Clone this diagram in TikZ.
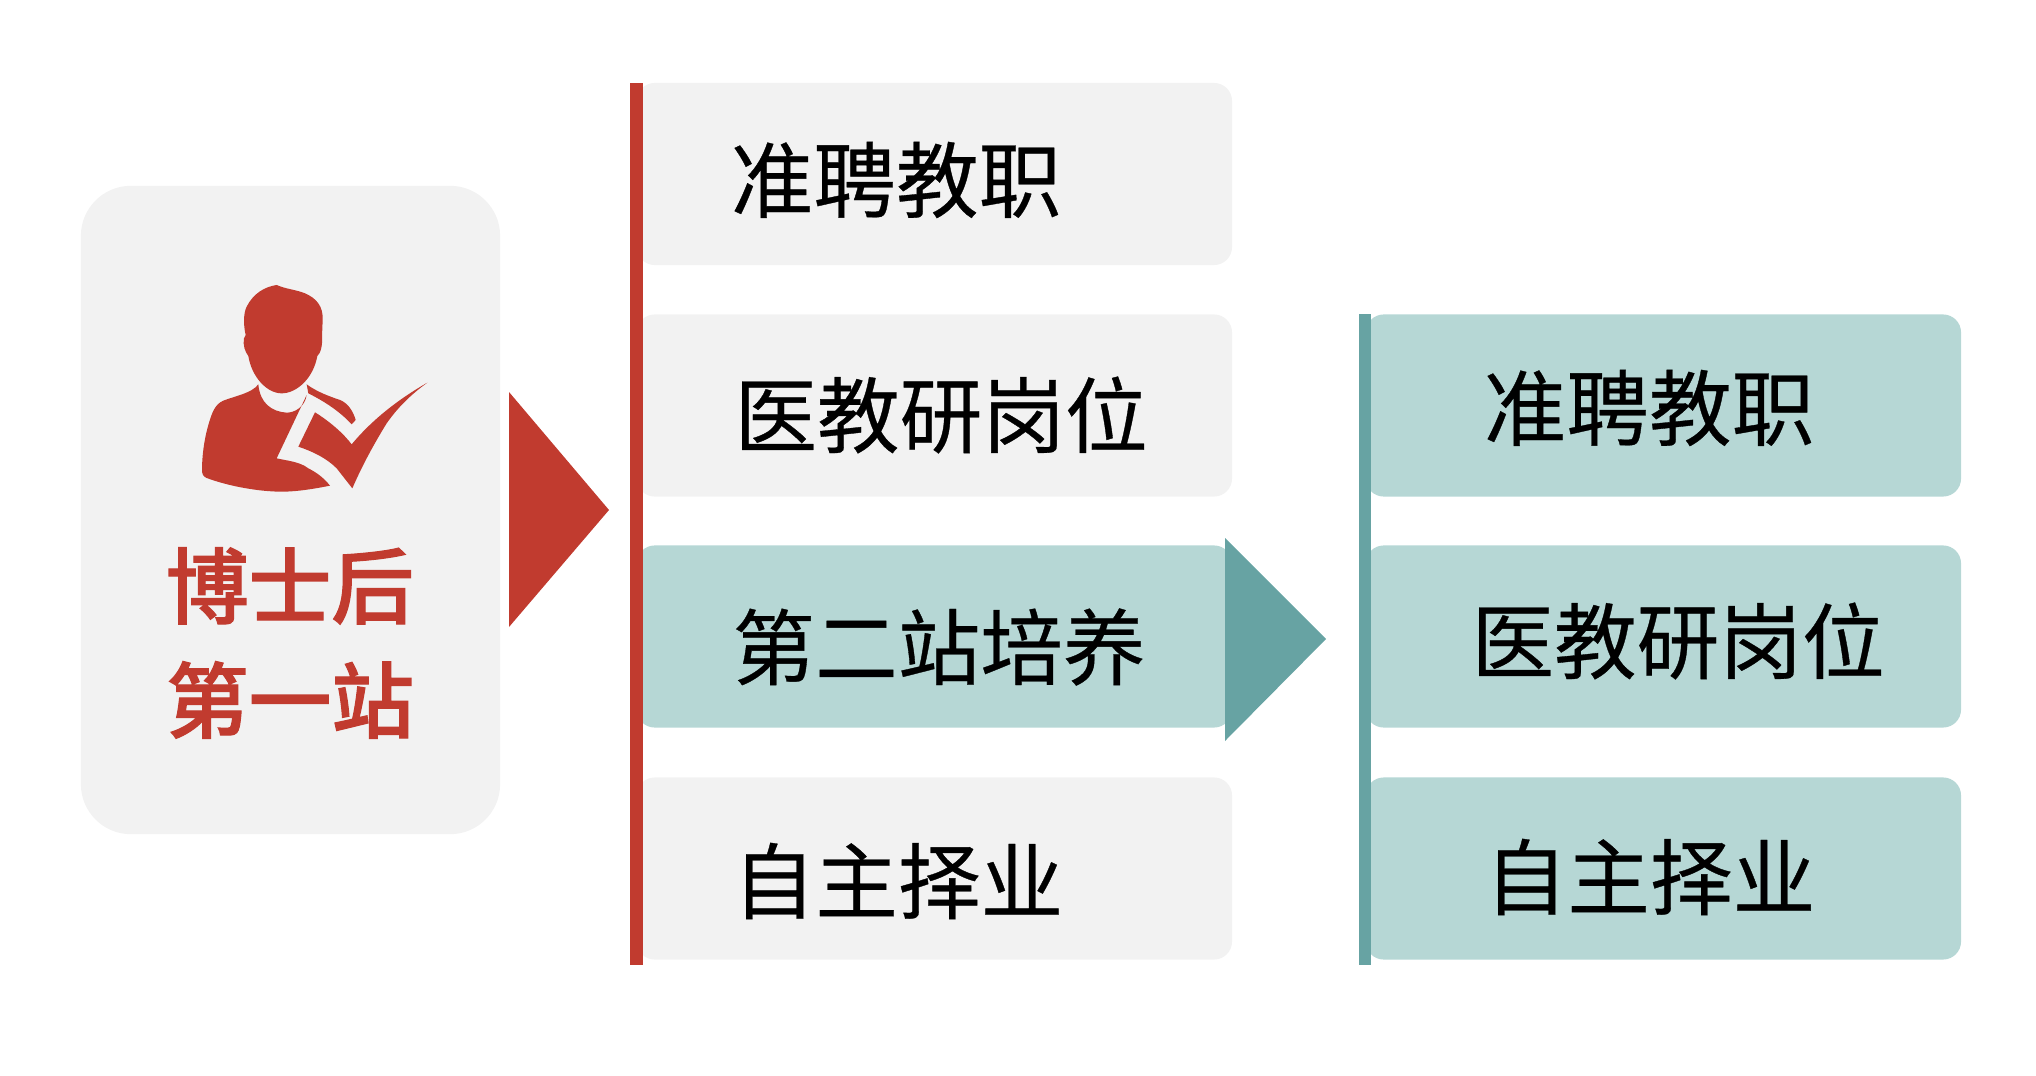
\documentclass[tikz,border=0pt]{standalone}
\usepackage{fontspec}
\newfontfamily\cjk[FakeBold=0.4]{Noto Sans CJK SC}
\newfontfamily\cjkmid[FakeBold=1.4]{Noto Sans CJK SC Medium}
\definecolor{stationred}{HTML}{C13B2F}
\definecolor{stationteal}{HTML}{67A3A3}
\definecolor{paleteal}{HTML}{B6D7D5}
\definecolor{palegray}{HTML}{F2F2F2}
\tikzset{
    optionbox/.style={fill=palegray, rounded corners=0.18cm, minimum width=5.95cm, minimum height=1.82cm, inner sep=0pt},
    tealbox/.style={optionbox, fill=paleteal},
    optiontext/.style={font=\cjk\fontsize{23.5}{23.5}\selectfont, inner sep=0pt},
    stationtext/.style={font=\cjkmid\fontsize{23.5}{32.5}\selectfont, text=stationred, align=center, inner sep=0pt}
}
\begin{document}
\begin{tikzpicture}[x=0.01cm, y=-0.01cm]
    \useasboundingbox (0,0) rectangle (2036,1076);
    \node[fill=palegray, rounded corners=0.5cm, minimum width=4.19cm, minimum height=6.48cm, inner sep=0pt] (panel) at (290.5,510) {};
    \fill[stationred] (509,392) -- (609,510) -- (509,627) -- cycle;
    \begin{scope}[shift={(180,270)}, x=0.01cm/3, y=-0.01cm/3]
        \fill[stationred] (290,45) .. controls (320,58) and (345,58) .. (375,70) .. controls (410,85) and (430,110) .. (428,150)
            -- (426,200) .. controls (428,225) and (422,250) .. (412,258) .. controls (400,325) and (350,370) .. (305,370)
            .. controls (260,370) and (215,320) .. (205,258) .. controls (195,245) and (188,225) .. (192,205) -- (197,195)
            .. controls (190,165) and (190,130) .. (200,110) .. controls (220,70) and (255,50) .. (290,45) -- cycle;
        \fill[stationred] (235,343) .. controls (215,370) and (165,378) .. (130,392) .. controls (105,402) and (95,430) .. (85,465)
            .. controls (72,510) and (66,560) .. (66,600) .. controls (66,612) and (70,620) .. (80,624)
            .. controls (150,650) and (240,665) .. (305,665) .. controls (355,665) and (410,655) .. (450,647)
            .. controls (435,628) and (415,610) .. (385,595) .. controls (360,575) and (320,572) .. (290,565)
            -- (380,375) .. controls (375,410) and (345,428) .. (320,428) .. controls (275,425) and (240,400) .. (235,343) -- cycle;
        \fill[stationred] (380,343) .. controls (410,365) and (445,378) .. (480,390) .. controls (505,400) and (520,425) .. (527,450)
            -- (515,463) .. controls (480,425) and (435,395) .. (385,370) -- cycle;
        \fill[stationred] (405,427) .. controls (450,455) and (490,490) .. (515,523) .. controls (580,445) and (660,385) .. (742,338)
            .. controls (695,372) and (655,410) .. (620,460) .. controls (580,525) and (545,590) .. (517,655)
            -- (470,595) .. controls (440,565) and (400,545) .. (355,530) -- cycle;
    \end{scope}
    \node[stationtext] (station) at (290,643) {博士后\\第一站};
    \node[optionbox, anchor=west] (teach) at (636,174) {};
    \node[optionbox, anchor=west] (research) at (636,405.5) {};
    \node[tealbox, anchor=west] (second) at (636,636.5) {};
    \node[optionbox, anchor=west] (career) at (636,868.5) {};
    \fill[stationred] (630,83) rectangle (643,965);
    \node[optiontext] (teachtext) at (896,180) {准聘教职};
    \node[optiontext] (researchtext) at (941,415) {医教研岗位};
    \node[optiontext] (secondtext) at (939,647) {第二站培养};
    \node[optiontext] (careertext) at (898,881) {自主择业};
    \fill[stationteal] (1225,538) -- (1326,639) -- (1225,741) -- cycle;
    \node[tealbox, anchor=west, minimum width=5.95cm] (teachb) at (1365,405.5) {};
    \node[tealbox, anchor=west, minimum width=5.95cm] (researchb) at (1365,636.5) {};
    \node[tealbox, anchor=west, minimum width=5.95cm] (careerb) at (1365,868.5) {};
    \fill[stationteal] (1359,314) rectangle (1371,965);
    \node[optiontext] (teachbtext) at (1649,408) {准聘教职};
    \node[optiontext] (researchbtext) at (1678,641) {医教研岗位};
    \node[optiontext] (careerbtext) at (1650,877) {自主择业};
\end{tikzpicture}
\end{document}
